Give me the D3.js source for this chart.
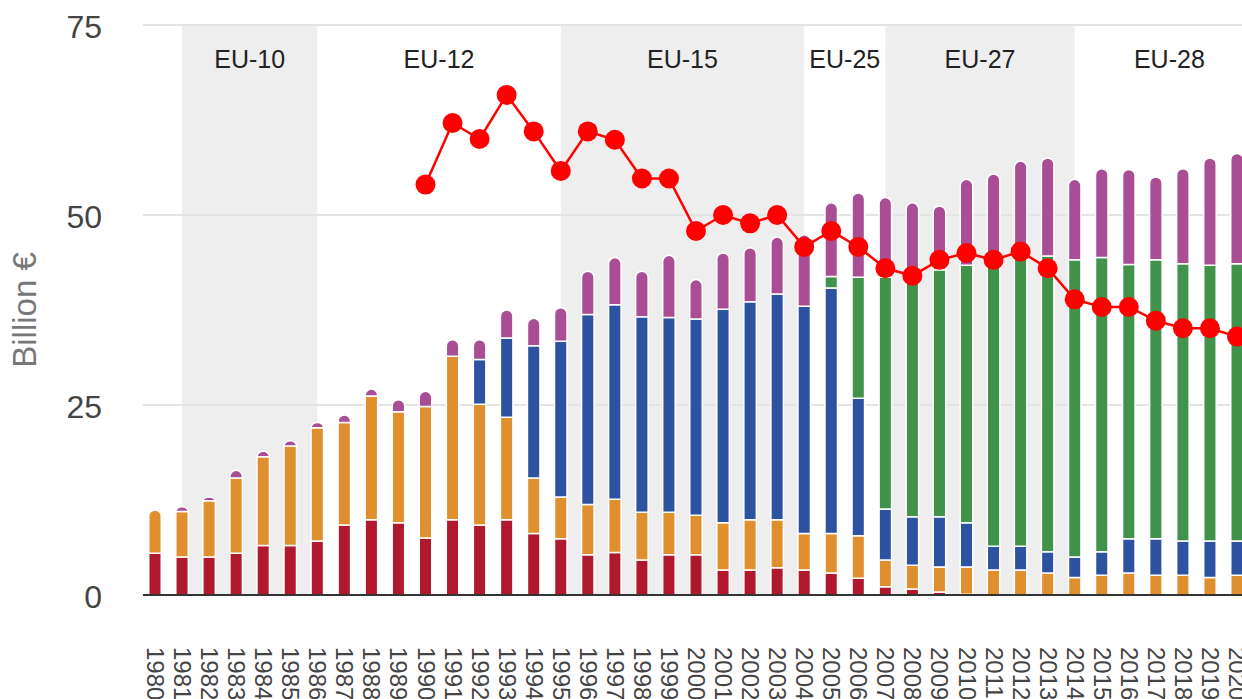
<!DOCTYPE html>
<html>
<head>
<meta charset="utf-8">
<script src="https://cdn.jsdelivr.net/npm/d3@7"></script>
<style>
  html, body { margin: 0; padding: 0; background: #fff; overflow: hidden; }
  svg { display: block; font-family: "Liberation Sans", Arial, sans-serif; }
</style>
</head>
<body>
<script>
// values (billion euro), one entry per year
const years = d3.range(1980, 2021);
const redVals    = [5.5,5.0,5.0,5.5,6.5,6.5,7.1,9.2,9.9,9.5,7.5,9.9,9.2,9.9,8.1,7.4,5.3,5.6,4.6,5.3,5.3,3.3,3.3,3.6,3.3,2.9,2.2,1.1,0.8,0.4,0.1,0,0,0,0,0,0,0,0,0,0];
const orangeVals = [5.7,6.0,7.4,9.9,11.7,13.1,14.9,13.5,16.3,14.6,17.3,21.5,15.9,13.5,7.3,5.5,6.6,7.0,6.3,5.6,5.2,6.2,6.6,6.3,4.8,5.2,5.6,3.5,3.1,3.3,3.6,3.3,3.3,2.9,2.3,2.6,2.9,2.6,2.6,2.3,2.6];
const blueVals   = [0,0,0,0,0,0,0,0,0,0,0,0,5.9,10.4,17.4,20.5,25.0,25.6,25.7,25.6,25.8,28.1,28.7,29.7,29.9,32.3,18.1,6.7,6.4,6.6,5.8,3.1,3.1,2.8,2.7,3.1,4.5,4.8,4.5,4.8,4.5];
const greenVals  = [0,0,0,0,0,0,0,0,0,0,0,0,0,0,0,0,0,0,0,0,0,0,0,0,0,1.5,15.9,30.5,31.2,32.5,33.9,37.1,38.1,38.9,39.1,38.7,36.1,36.7,36.5,36.3,36.5];
const purpleVals = [0,0.6,0.5,1.0,0.7,0.7,0.7,1.0,0.9,1.6,2.0,2.2,2.6,3.7,3.6,4.4,5.7,6.2,6.0,8.2,5.2,7.4,7.1,7.5,9.4,9.7,11.1,10.5,10.1,8.4,11.3,11.9,12.6,12.9,10.6,11.7,12.5,10.9,12.5,14.1,14.5];

// red line with dots
const lineYears = d3.range(1990, 2021);
const lineVals  = [54.0,62.1,60.0,65.8,61.0,55.8,61.0,59.9,54.8,54.8,47.9,50.0,48.9,50.0,45.8,47.9,45.8,43.0,42.0,44.1,45.0,44.1,45.2,43.0,38.9,37.9,37.9,36.1,35.1,35.1,34.0];

// EU enlargement periods (from year mark to year mark)
const periodLabels = ["EU-10","EU-12","EU-15","EU-25","EU-27","EU-28"];
const periodStart  = [1981, 1986, 1995, 2004, 2007, 2014];
const periodEnd    = [1986, 1995, 2004, 2007, 2014, 2021];

const yTicks = [0, 25, 50, 75];

const keys = ["red", "orange", "blue", "green", "purple"];
const colors = { red: "#b0182e", orange: "#e08f2f", blue: "#2c52a0", green: "#41924b", purple: "#a94e95" };

const W = 1242, H = 699;
const m = { left: 143, top: 25, bottom: 104 };

const svg = d3.select("body").append("svg")
    .attr("width", W)
    .attr("height", H);

const x = d3.scaleLinear().domain([1980, 2020]).range([155, 1237]);
const y = d3.scaleLinear().domain([0, 75]).range([H - m.bottom, m.top]);

// shaded periods
svg.append("g").selectAll("rect")
    .data(periodLabels.filter((d, i) => i % 2 === 0))
    .enter().append("rect")
    .attr("x", d => x(periodStart[periodLabels.indexOf(d)]))
    .attr("width", d => x(periodEnd[periodLabels.indexOf(d)]) - x(periodStart[periodLabels.indexOf(d)]))
    .attr("y", y(75))
    .attr("height", y(0) - y(75))
    .attr("fill", "#eeeeee");

// grid lines
svg.append("g").selectAll("line")
    .data(yTicks.filter(d => d > 0))
    .enter().append("line")
    .attr("x1", m.left).attr("x2", W)
    .attr("y1", d => y(d)).attr("y2", d => y(d))
    .attr("stroke", "#e4e4e4")
    .attr("stroke-width", 2);

// y tick labels
svg.append("g").selectAll("text")
    .data(yTicks)
    .enter().append("text")
    .attr("x", 102)
    .attr("y", d => y(d))
    .attr("dy", "0.42em")
    .attr("text-anchor", "end")
    .attr("font-size", 32)
    .attr("fill", "#444")
    .text(d => d);

svg.append("text")
    .attr("transform", "translate(36," + y(37.5) + ") rotate(-90)")
    .attr("text-anchor", "middle")
    .attr("font-size", 33)
    .attr("fill", "#777")
    .text("Billion €");

// stacked bars
const table = years.map((yr, i) => ({
    year: yr, red: redVals[i], orange: orangeVals[i], blue: blueVals[i], green: greenVals[i], purple: purpleVals[i]
}));
const series = d3.stack().keys(keys)(table);

// which key is the top (non-zero) one for each year
const topKey = table.map(row => keys.filter(k => row[k] > 0).pop());

const bw = 12.5;
const segPath = (d, key) => {
    const x0 = x(d.data.year) - bw / 2, x1 = x0 + bw;
    const yt = y(d[1]), yb = y(d[0]);
    if (topKey[years.indexOf(d.data.year)] !== key) {
        return "M" + x0 + "," + yb + "V" + yt + "H" + x1 + "V" + yb + "Z";
    }
    const rx = bw / 2, ry = Math.min(rx, yb - yt);
    return "M" + x0 + "," + yb + "V" + (yt + ry) +
        "A" + rx + "," + ry + " 0 0 1 " + x1 + "," + (yt + ry) + "V" + yb + "Z";
};

svg.append("g").selectAll("g")
    .data(series)
    .enter().append("g")
    .attr("fill", s => colors[s.key])
    .each(function (s) {
        d3.select(this).selectAll("path")
            .data(s.filter(d => d[1] - d[0] > 0))
            .enter().append("path")
            .attr("d", d => segPath(d, s.key))
            .attr("stroke", "#fff")
            .attr("stroke-width", 1.5);
    });

// zero axis line
svg.append("line")
    .attr("x1", m.left).attr("x2", W)
    .attr("y1", y(0)).attr("y2", y(0))
    .attr("stroke", "#333")
    .attr("stroke-width", 2);

// x axis labels (rotated)
const xAxis = d3.axisBottom(x).tickValues(years).tickFormat(d3.format("d")).tickSize(0);
const gx = svg.append("g")
    .attr("transform", "translate(0," + y(0) + ")")
    .call(xAxis);
gx.select(".domain").remove();
gx.selectAll("text")
    .attr("font-size", 24)
    .attr("fill", "#444")
    .attr("font-family", "\"Liberation Sans\", Arial, sans-serif")
    .attr("text-anchor", "start")
    .attr("dy", null)
    .attr("y", 0)
    .attr("dominant-baseline", "central")
    .attr("transform", "translate(0,52) rotate(90)");

// period labels
svg.append("g").selectAll("text")
    .data(periodLabels)
    .enter().append("text")
    .attr("x", (d, i) => (x(periodStart[i]) + x(periodEnd[i])) / 2)
    .attr("y", 68)
    .attr("text-anchor", "middle")
    .attr("font-size", 25)
    .attr("fill", "#222")
    .text(d => d);

// line + dots
const line = d3.line()
    .x((d, i) => x(lineYears[i]))
    .y(d => y(d));

svg.append("path")
    .datum(lineVals)
    .attr("d", line)
    .attr("fill", "none")
    .attr("stroke", "#ff0000")
    .attr("stroke-width", 2.5);

svg.append("g").selectAll("circle")
    .data(lineVals)
    .enter().append("circle")
    .attr("cx", (d, i) => x(lineYears[i]))
    .attr("cy", d => y(d))
    .attr("r", 10)
    .attr("fill", "#ff0000");
</script>
</body>
</html>
